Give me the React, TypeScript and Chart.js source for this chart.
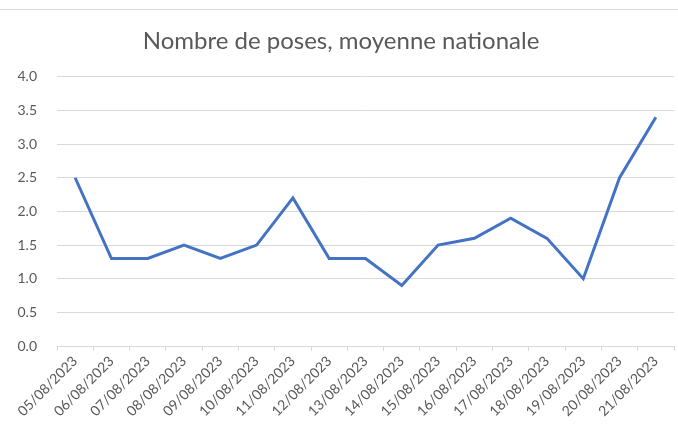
import React, { useEffect, useRef } from "react";
import { Chart, registerables } from "chart.js";

Chart.register(...registerables);

const categories = [
  "05/08/2023", "06/08/2023", "07/08/2023", "08/08/2023", "09/08/2023",
  "10/08/2023", "11/08/2023", "12/08/2023", "13/08/2023", "14/08/2023",
  "15/08/2023", "16/08/2023", "17/08/2023", "18/08/2023", "19/08/2023",
  "20/08/2023", "21/08/2023",
];
const values = [2.5, 1.3, 1.3, 1.5, 1.3, 1.5, 2.2, 1.3, 1.3, 0.9, 1.5, 1.6, 1.9, 1.6, 1.0, 2.5, 3.4];
const titleText = "Nombre de poses, moyenne nationale";

export default function App() {
  const ref = useRef<HTMLCanvasElement | null>(null);
  useEffect(() => {
    if (!ref.current) return;
    const font = "Lato, 'Open Sans', sans-serif";
    const chart = new Chart(ref.current, {
      type: "line",
      data: {
        labels: categories,
        datasets: [
          {
            data: values,
            borderColor: "#4472C4",
            borderWidth: 3,
            pointRadius: 0,
            tension: 0,
            fill: false,
          },
        ],
      },
      options: {
        animation: false,
        responsive: false,
        layout: { padding: { left: 8, right: 4, top: 0, bottom: 0 } },
        plugins: {
          legend: { display: false },
          tooltip: { enabled: false },
          title: {
            display: true,
            text: titleText,
            color: "#595959",
            font: { family: font, size: 24, weight: "normal" },
            padding: { top: 27, bottom: 21 },
          },
        },
        scales: {
          x: {
            offset: true,
            grid: {
              offset: true,
              drawOnChartArea: false,
              drawTicks: true,
              tickLength: 5,
              color: "#d9d9d9",
            },
            border: { color: "#d9d9d9" },
            ticks: {
              color: "#595959",
              font: { family: font, size: 14 },
              minRotation: 45,
              maxRotation: 45,
              autoSkip: false,
              padding: 2,
            },
            afterFit: (s: any) => {
              s.height = 88;
            },
          },
          y: {
            min: 0,
            max: 4,
            ticks: {
              stepSize: 0.5,
              color: "#595959",
              font: { family: font, size: 14 },
              padding: 20,
              callback: (v: any) => Number(v).toFixed(1),
            },
            grid: { color: "#d9d9d9", drawTicks: false },
            border: { display: false },
            afterFit: (s: any) => {
              s.width = 49;
            },
          },
        },
      },
    });
    return () => chart.destroy();
  }, []);
  return (
    <div style={{ position: "fixed", left: 0, top: 0, width: 678, height: 434, background: "#fff" }}>
      <div style={{ position: "absolute", left: 0, top: 9, width: 678, height: 0, borderTop: "1px solid #d9d9d9" }} />
      <canvas ref={ref} width={678} height={434} style={{ position: "absolute", left: 0, top: 0 }} />
    </div>
  );
}
